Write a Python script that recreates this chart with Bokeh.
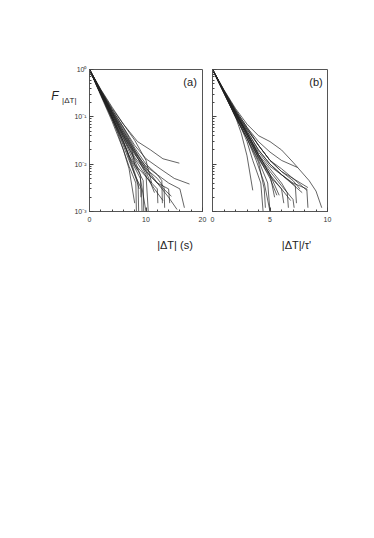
from bokeh.plotting import figure
from bokeh.layouts import row
from bokeh.models import FixedTicker, Label, Range1d, LinearAxis, LogAxis
from bokeh.embed import file_html
from bokeh.resources import INLINE

# Panel (a): |dT| in seconds
a_x = [
    [0, 2, 4, 6, 7.5, 8.6, 8.7],
    [0, 2, 4, 5.5, 7, 8, 9.2, 9.3],
    [0, 2, 4, 6, 8, 10, 10.4],
    [0, 2, 4, 6, 8.5, 10.8, 13, 15.9],
    [0, 2, 4, 6, 8, 10, 12.5, 15, 17.7],
    [0, 2, 4, 6, 8, 10, 12, 14, 16, 16.8],
    [0, 2, 4, 6, 7, 8],
    [0, 2, 4, 5, 6, 7, 8.2, 8.3],
    [0, 2, 4, 6, 8, 10, 12, 14, 14.2],
    [0, 2, 4, 6, 8, 10, 12, 13.2, 13.3],
    [0, 2, 4, 6, 8, 10, 12, 14, 15.5],
    [0, 2, 4, 6, 8, 9.5, 9.6],
    [0, 2, 4, 6, 7.5, 8, 11, 12, 12.1],
    [0, 2, 4, 6, 8, 10, 11.5, 13],
    [0, 2, 4, 6, 8, 10, 11.5],
    [0, 2, 4, 5, 6, 7, 8.5],
    [0, 2, 4, 6, 8, 9, 10.5, 12, 14.5],
    [0, 2, 4, 6, 7.5, 9, 10],
    [0, 2, 4, 6, 8, 10, 12, 12.8, 12.9],
    [0, 2, 4, 6, 8, 9, 9.1],
    [0, 2, 4, 6, 8, 10, 11],
    [0, 2, 3.5, 5, 6.5, 8, 8.8],
]
a_y = [
    [1, 0.32, 0.1, 0.03, 0.01, 0.004, 0.001],
    [1, 0.3, 0.09, 0.035, 0.012, 0.006, 0.003, 0.001],
    [1, 0.35, 0.13, 0.05, 0.018, 0.006, 0.001],
    [1, 0.38, 0.16, 0.07, 0.03, 0.02, 0.013, 0.0105],
    [1, 0.36, 0.14, 0.06, 0.025, 0.013, 0.008, 0.005, 0.0038],
    [1, 0.34, 0.12, 0.045, 0.018, 0.009, 0.006, 0.004, 0.003, 0.0012],
    [1, 0.28, 0.08, 0.02, 0.008, 0.0015],
    [1, 0.3, 0.09, 0.045, 0.02, 0.009, 0.004, 0.001],
    [1, 0.33, 0.11, 0.04, 0.014, 0.007, 0.004, 0.003, 0.0015],
    [1, 0.34, 0.12, 0.042, 0.016, 0.008, 0.005, 0.0032, 0.0012],
    [1, 0.35, 0.125, 0.05, 0.02, 0.0085, 0.004, 0.002, 0.0011],
    [1, 0.3, 0.1, 0.035, 0.01, 0.0045, 0.001],
    [1, 0.33, 0.11, 0.04, 0.02, 0.01, 0.004, 0.003, 0.0015],
    [1, 0.32, 0.1, 0.035, 0.013, 0.0055, 0.003, 0.0017],
    [1, 0.34, 0.12, 0.045, 0.017, 0.007, 0.0025],
    [1, 0.3, 0.1, 0.055, 0.03, 0.015, 0.0075],
    [1, 0.35, 0.13, 0.055, 0.02, 0.012, 0.006, 0.004, 0.0021],
    [1, 0.31, 0.095, 0.03, 0.011, 0.005, 0.001],
    [1, 0.36, 0.14, 0.06, 0.022, 0.01, 0.006, 0.0045, 0.0015],
    [1, 0.33, 0.11, 0.038, 0.012, 0.006, 0.002],
    [1, 0.37, 0.15, 0.07, 0.032, 0.012, 0.004],
    [1, 0.3, 0.12, 0.05, 0.02, 0.006, 0.003],
]

# Panel (b): |dT| / tau'
b_x = [
    [0, 1, 2, 3, 3.5, 4.2, 4.4],
    [0, 1, 2, 3, 4, 4.8, 5.0],
    [0, 1, 2, 3, 4, 5, 5.4],
    [0, 1, 2, 3, 4, 5, 6, 7.4],
    [0, 1, 2, 3, 4, 5, 6, 7, 8.3],
    [0, 1, 2, 3, 4, 5, 6, 7, 8.2, 8.3],
    [0, 1, 2, 2.5, 3, 3.5],
    [0, 1, 2, 3, 4, 5, 6, 6.5, 6.6],
    [0, 1, 2, 3, 4, 5, 6, 7, 8.4, 9.0, 9.5],
    [0, 1, 2, 3, 4, 5, 6, 7, 7.1],
    [0, 1, 2, 3, 4, 5, 6, 7.8],
    [0, 1, 2, 3, 4, 4.5, 4.6],
    [0, 1, 2, 3, 4, 5, 6, 7.2, 7.3],
    [0, 1, 2, 3, 4, 5, 6, 6.8],
    [0, 1, 2, 3, 4, 5, 5.8],
    [0, 1, 2, 3, 4, 5, 6, 7, 8.2],
    [0, 1, 2, 3, 3.8, 4.5, 5.0],
    [0, 1, 2, 3, 4, 5, 6, 6.2],
    [0, 1, 2, 3, 4, 5, 6, 7, 7.6],
    [0, 1, 2, 3, 4, 5, 5.6],
]
b_y = [
    [1, 0.33, 0.11, 0.03, 0.012, 0.004, 0.001],
    [1, 0.32, 0.1, 0.035, 0.012, 0.004, 0.001],
    [1, 0.35, 0.12, 0.045, 0.016, 0.006, 0.002],
    [1, 0.36, 0.14, 0.06, 0.03, 0.018, 0.012, 0.0085],
    [1, 0.34, 0.13, 0.055, 0.025, 0.012, 0.007, 0.005, 0.0032],
    [1, 0.34, 0.12, 0.045, 0.018, 0.009, 0.006, 0.004, 0.003, 0.0012],
    [1, 0.32, 0.1, 0.045, 0.015, 0.0028],
    [1, 0.33, 0.12, 0.045, 0.016, 0.008, 0.004, 0.0025, 0.0012],
    [1, 0.37, 0.15, 0.07, 0.04, 0.03, 0.02, 0.011, 0.0045, 0.0027, 0.0012],
    [1, 0.34, 0.12, 0.045, 0.015, 0.007, 0.0035, 0.0018, 0.0012],
    [1, 0.35, 0.13, 0.05, 0.02, 0.01, 0.006, 0.0025],
    [1, 0.32, 0.1, 0.035, 0.011, 0.003, 0.0012],
    [1, 0.34, 0.12, 0.05, 0.02, 0.01, 0.006, 0.0035, 0.0015],
    [1, 0.33, 0.11, 0.04, 0.013, 0.0055, 0.003, 0.0017],
    [1, 0.34, 0.12, 0.045, 0.016, 0.006, 0.0022],
    [1, 0.35, 0.13, 0.055, 0.025, 0.012, 0.008, 0.005, 0.0028],
    [1, 0.31, 0.1, 0.035, 0.012, 0.004, 0.001],
    [1, 0.33, 0.115, 0.04, 0.014, 0.006, 0.003, 0.0015],
    [1, 0.36, 0.14, 0.06, 0.025, 0.012, 0.007, 0.0045, 0.003],
    [1, 0.33, 0.11, 0.04, 0.014, 0.005, 0.0022],
]

y_ticks = [0.001, 0.01, 0.1, 1]
y_tick_labels = {0.001: "10\u207b\u00b3", 0.01: "10\u207b\u00b2", 0.1: "10\u207b\u00b9", 1: "10\u2070"}
a_ticks = [0, 10, 20]
b_ticks = [0, 5, 10]
a_xlabel = "|\u0394T|  (s)"
b_xlabel = "|\u0394T|/\u03c4'"
y_label_main = "F"
y_label_sub = "|\u0394T|"

FONT = "Liberation Sans"
H = 261
INK = "#222222"


def make_fig(width, x_max, major, minor_step, border_left, border_right, show_ylabels):
    p = figure(width=width, height=H, y_axis_type="log",
               x_range=Range1d(0, x_max), y_range=Range1d(0.001, 1),
               output_backend="svg", toolbar_location=None,
               min_border_left=border_left, min_border_right=border_right,
               min_border_top=69, min_border_bottom=50)
    p.grid.visible = False
    p.outline_line_color = "#555555"
    p.outline_line_width = 1
    p.background_fill_color = "white"
    p.border_fill_color = "white"
    p.xaxis.ticker = FixedTicker(ticks=major,
                                 minor_ticks=[i * minor_step for i in range(int(x_max / minor_step) + 1)])
    p.yaxis.ticker = FixedTicker(ticks=y_ticks,
                                 minor_ticks=[m * d for d in [0.001, 0.01, 0.1] for m in range(2, 10)])
    for ax in (p.xaxis[0], p.yaxis[0]):
        ax.axis_line_color = "#555555"
        ax.major_tick_in = 4
        ax.major_tick_out = 0
        ax.minor_tick_in = 2
        ax.minor_tick_out = 0
        ax.major_tick_line_color = "#444444"
        ax.minor_tick_line_color = "#444444"
        ax.major_label_text_font = FONT
        ax.major_label_text_font_size = "7px"
        ax.major_label_text_color = "#333333"
    p.xaxis.major_label_standoff = 5
    p.yaxis.major_label_standoff = 3
    p.yaxis.major_label_overrides = y_tick_labels
    if not show_ylabels:
        p.yaxis.major_label_text_alpha = 0
    return p


def label_axis(cls, pos, text, size, standoff, style="normal"):
    ax = cls(ticker=FixedTicker(ticks=[pos], minor_ticks=[]),
             major_label_overrides={pos: text})
    ax.axis_line_color = None
    ax.major_tick_line_color = None
    ax.minor_tick_line_color = None
    ax.major_tick_in = 0
    ax.major_tick_out = 0
    ax.minor_tick_in = 0
    ax.minor_tick_out = 0
    ax.major_label_standoff = standoff
    ax.major_label_text_font = FONT
    ax.major_label_text_font_size = size
    ax.major_label_text_font_style = style
    ax.major_label_text_color = INK
    return ax


pa = make_fig(207, 20, a_ticks, 2, 89, 5, True)
for xs, ys in zip(a_x, a_y):
    pa.line(xs, ys, line_color=INK, line_width=0.7)

pb = make_fig(137, 10, b_ticks, 1, 5, 17, False)
for xs, ys in zip(b_x, b_y):
    pb.line(xs, ys, line_color=INK, line_width=0.7)

pa.add_layout(Label(x=17.8, y=0.55, text="(a)", text_font=FONT, text_font_size="11px",
                    text_color=INK, text_align="center", text_baseline="middle"))
pb.add_layout(Label(x=9.0, y=0.55, text="(b)", text_font=FONT, text_font_size="11px",
                    text_color=INK, text_align="center", text_baseline="middle"))

# axis titles as single-tick label axes (outside the frame)
pa.add_layout(label_axis(LinearAxis, 15.4, a_xlabel, "11px", 14), "below")
pb.add_layout(label_axis(LinearAxis, 7.3, b_xlabel, "11px", 14), "below")
pa.add_layout(label_axis(LogAxis, 0.22, y_label_sub, "8px", -5), "left")
pa.add_layout(label_axis(LogAxis, 0.27, y_label_main, "12px", 1, "italic"), "left")

layout = row(pa, pb)
open("out.html", "w").write(file_html(layout, INLINE))
